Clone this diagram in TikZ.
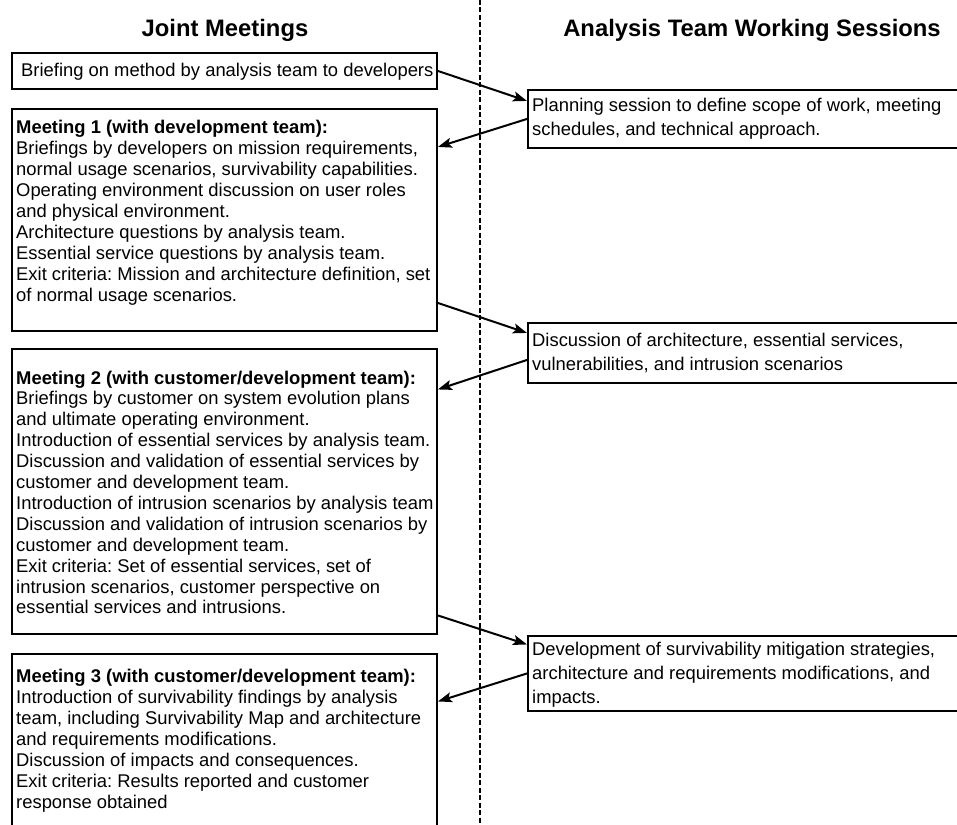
\documentclass[tikz,border=0pt]{standalone}
\usepackage{fontspec}
\setmainfont{Liberation Sans}
\usetikzlibrary{arrows.meta}
\frenchspacing
\begin{document}
\begin{tikzpicture}[x=1pt,y=-1pt,
  box/.style={draw=black, line width=1.9pt, anchor=north west, inner sep=0pt},
  txt/.style={anchor=base west, inner sep=0pt},
  ltxt/.style={txt, font=\fontsize{18.4}{21.1}\selectfont},
  rtxt/.style={txt, font=\fontsize{18.4}{24}\selectfont},
  conn/.style={line width=2pt, -{Stealth[length=14pt,width=10pt,inset=3pt]}},
  head/.style={font=\fontsize{23.8}{28}\selectfont\bfseries, inner sep=0pt, anchor=base},
  divider/.style={line width=1.3pt, dash pattern=on 5pt off 2.5pt}]
\useasboundingbox (0,0) rectangle (957,824);

% divider
\coordinate (dtop) at (480,0);
\coordinate (dbot) at (480,824);
\draw[divider] (dtop) -- (dbot);

% headers
\node[head] (h1) at (225,37) {Joint Meetings};
\node[head] (h2) at (752,37) {Analysis Team Working Sessions};

% left boxes
\node[box, minimum width=425pt, minimum height=36pt]  (b0) at (11,52)  {};
\node[box, minimum width=425pt, minimum height=222pt] (m1) at (11,108) {};
\node[box, minimum width=425pt, minimum height=285pt] (m2) at (11,348) {};
\node[box, minimum width=425pt, minimum height=177pt] (m3) at (11,653) {};

% right boxes
\node[box, minimum width=436pt, minimum height=58pt] (plan) at (527,89)  {};
\node[box, minimum width=436pt, minimum height=60pt] (disc) at (527,322) {};
\node[box, minimum width=436pt, minimum height=75pt] (dev)  at (527,635) {};

% texts
\node[ltxt] (b0t) at (21,77) {Briefing on method by analysis team to developers};

\node[ltxt] (m1t) at (16,133) {\parbox[t]{440pt}{\raggedright
\textbf{Meeting 1 (with development team):}\\
Briefings by developers on mission requirements,\\
normal usage scenarios, survivability capabilities.\\
Operating environment discussion on user roles\\
and physical environment.\\
Architecture questions by analysis team.\\
Essential service questions by analysis team.\\
Exit criteria: Mission and architecture definition, set\\
of normal usage scenarios.}};

\node[ltxt, font=\fontsize{18.4}{20.9}\selectfont] (m2t) at (16,384) {\parbox[t]{440pt}{\raggedright
\textbf{Meeting 2 (with customer/development team):}\\
Briefings by customer on system evolution plans\\
and ultimate operating environment.\\
Introduction of essential services by analysis team.\\
Discussion and validation of essential services by\\
customer and development team.\\
Introduction of intrusion scenarios by analysis team\\
Discussion and validation of intrusion scenarios by\\
customer and development team.\\
Exit criteria: Set of essential services, set of\\
intrusion scenarios, customer perspective on\\
essential services and intrusions.}};

\node[ltxt, font=\fontsize{18.4}{21}\selectfont] (m3t) at (16,682) {\parbox[t]{440pt}{\raggedright
\textbf{Meeting 3 (with customer/development team):}\\
Introduction of survivability findings by analysis\\
team, including Survivability Map and architecture\\
and requirements modifications.\\
Discussion of impacts and consequences.\\
Exit criteria: Results reported and customer\\
response obtained}};

\node[rtxt] (plant) at (532,112) {\parbox[t]{430pt}{\raggedright
Planning session to define scope of work, meeting\\
schedules, and technical approach.}};

\node[rtxt] (disct) at (532,346) {\parbox[t]{430pt}{\raggedright
Discussion of architecture, essential services,\\
vulnerabilities, and intrusion scenarios}};

\node[rtxt] (devt) at (532,655) {\parbox[t]{430pt}{\raggedright
Development of survivability mitigation strategies,\\
architecture and requirements modifications, and\\
impacts.}};

% connectors
\draw[conn] (b0.east) -- ([yshift=18pt]plan.west);
\draw[conn] (plan.west) -- ([yshift=73pt]m1.east);
\draw[conn] ([yshift=-83pt]m1.east) -- ([yshift=20pt]disc.west);
\draw[conn] ([yshift=-7pt]disc.west) -- ([yshift=102pt]m2.east);
\draw[conn] ([yshift=-124pt]m2.east) -- ([yshift=29pt]dev.west);
\draw[conn] (dev.west) -- ([yshift=41pt]m3.east);
\end{tikzpicture}
\end{document}
